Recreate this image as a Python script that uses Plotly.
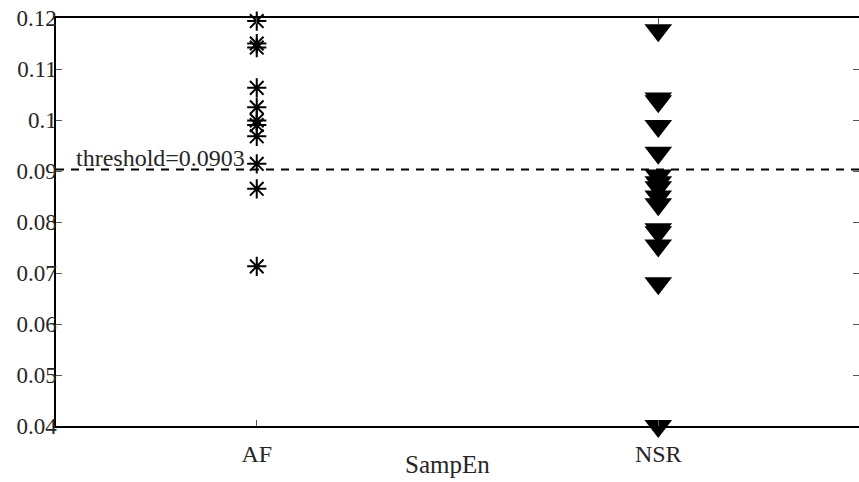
import plotly.graph_objects as go

# Sample entropy per recording, grouped by rhythm class
categories = ["AF", "NSR"]
af_values = [0.1194, 0.1150, 0.1142, 0.1063, 0.1025, 0.0999, 0.0990,
             0.0968, 0.0914, 0.0865, 0.0713]
nsr_values = [0.1176, 0.1042, 0.1037, 0.0988, 0.0936, 0.0891, 0.0878,
              0.0868, 0.0850, 0.0835, 0.0786, 0.0780, 0.0754, 0.0680, 0.0400]
threshold = 0.0903

y_ticks = [0.04, 0.05, 0.06, 0.07, 0.08, 0.09, 0.10, 0.11, 0.12]
y_tick_text = ["0.04", "0.05", "0.06", "0.07", "0.08", "0.09", "0.1", "0.11", "0.12"]

FONT = "Times New Roman, Liberation Serif, DejaVu Serif, serif"
TXT = "#262626"

fig = go.Figure()

fig.add_trace(go.Scatter(
    x=[1] * len(af_values), y=af_values, mode="markers",
    marker=dict(symbol="asterisk-open", size=16, color="black",
                line=dict(color="black", width=2)),
    cliponaxis=False, showlegend=False,
))
fig.add_trace(go.Scatter(
    x=[2] * len(nsr_values), y=nsr_values, mode="markers",
    marker=dict(symbol="triangle-down", size=24, color="black",
                line=dict(width=0)),
    cliponaxis=False, showlegend=False,
))

# decision threshold
fig.add_trace(go.Scatter(
    x=[0.5, 2.5], y=[threshold, threshold], mode="lines",
    line=dict(color="black", width=2, dash="8px,7px"),
    showlegend=False, hoverinfo="skip",
))
fig.add_annotation(
    x=0.545, y=threshold, xref="x", yref="y", text=f"threshold={threshold}",
    showarrow=False, xanchor="left", yanchor="bottom", yshift=-4,
    font=dict(family=FONT, size=24, color=TXT),
)

# x-axis caption
fig.add_annotation(
    x=0.487, y=-0.095, xref="paper", yref="paper", text="SampEn",
    showarrow=False, xanchor="center", yanchor="middle",
    font=dict(family=FONT, size=25, color=TXT),
)

# right-hand tick marks without a frame line
fig.add_trace(go.Scatter(x=[None], y=[None], yaxis="y2", showlegend=False))

tick_style = dict(ticks="inside", ticklen=6, tickcolor="#555", tickwidth=1)

fig.update_layout(
    width=859, height=482,
    margin=dict(l=56, r=0, t=18, b=56),
    paper_bgcolor="white", plot_bgcolor="white",
    font=dict(family=FONT, size=23, color=TXT),
    xaxis=dict(
        range=[0.5, 2.5], tickvals=[1, 2], ticktext=categories,
        showgrid=False, zeroline=False,
        showline=True, linecolor="black", linewidth=1.5, mirror="ticks",
        ticklabelstandoff=5, tickfont=dict(size=24), **tick_style,
    ),
    yaxis=dict(
        range=[0.04, 0.12], tickvals=y_ticks, ticktext=y_tick_text,
        showgrid=False, zeroline=False,
        showline=True, linecolor="black", linewidth=1.5, mirror=False,
        ticklabelstandoff=-7, tickfont=dict(size=23), **tick_style,
    ),
    yaxis2=dict(
        range=[0.04, 0.12], tickvals=y_ticks, showticklabels=False,
        overlaying="y", side="right", showgrid=False, zeroline=False,
        showline=False, **tick_style,
    ),
)

fig.write_html("out.html")
